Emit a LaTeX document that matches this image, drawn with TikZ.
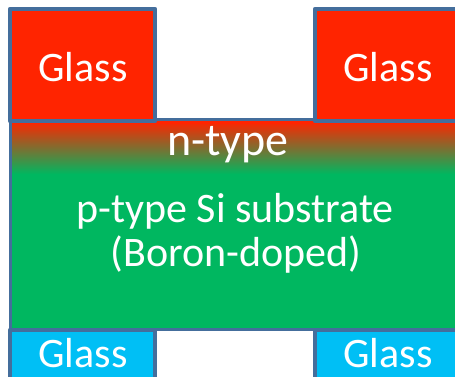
\documentclass[tikz,border=0pt]{standalone}
\usepackage{fontspec}
\setmainfont{Carlito}
\definecolor{edge}{RGB}{68,110,156}
\definecolor{glassred}{RGB}{255,36,0}
\definecolor{siliconG}{RGB}{0,183,96}
\definecolor{glasscyan}{RGB}{0,191,245}
\tikzset{
  glassbox/.style={draw=edge, line width=4.5pt, line join=round},
  label42/.style={text=white, anchor=base, inner sep=0pt, font=\fontsize{42}{42}\selectfont},
  label46/.style={text=white, anchor=base, inner sep=0pt, font=\fontsize{46}{46}\selectfont}
}
\begin{document}
\begin{tikzpicture}[x=1pt,y=-1pt]
  \useasboundingbox (0,0) rectangle (455,377);
  % silicon wafer: n-type diffusion grading into the p-type bulk
  \shade[top color=glassred, bottom color=siliconG] (10,121) rectangle (460,174);
  \fill[siliconG] (10,174) rectangle (460,329);
  \fill[glassred] (10,120) rectangle (460,124);
  \draw[edge, line width=3pt] (10,120) rectangle (460,329);
  % glass frits on the front side
  \filldraw[glassbox, fill=glassred] (10,9) rectangle (155,121);
  \filldraw[glassbox, fill=glassred] (315,9) rectangle (460,121);
  % glass frits on the back side
  \filldraw[glassbox, fill=glasscyan] (10,330) rectangle (155,400);
  \filldraw[glassbox, fill=glasscyan] (315,330) rectangle (460,400);
  % labels
  \node[label42] (gtl) at (83,82) {Glass};
  \node[label42] (gtr) at (388,82) {Glass};
  \node[label46] (ntype) at (228,156) {n-type};
  \node[label42] (ptype) at (235,222) {p-type Si substrate};
  \node[label42] (boron) at (236,266) {(Boron-doped)};
  \node[label42, text depth=0pt, text height=28pt] (gbl) at (83,367) {Glass};
  \node[label42, text depth=0pt, text height=28pt] (gbr) at (388,367) {Glass};
\end{tikzpicture}
\end{document}
